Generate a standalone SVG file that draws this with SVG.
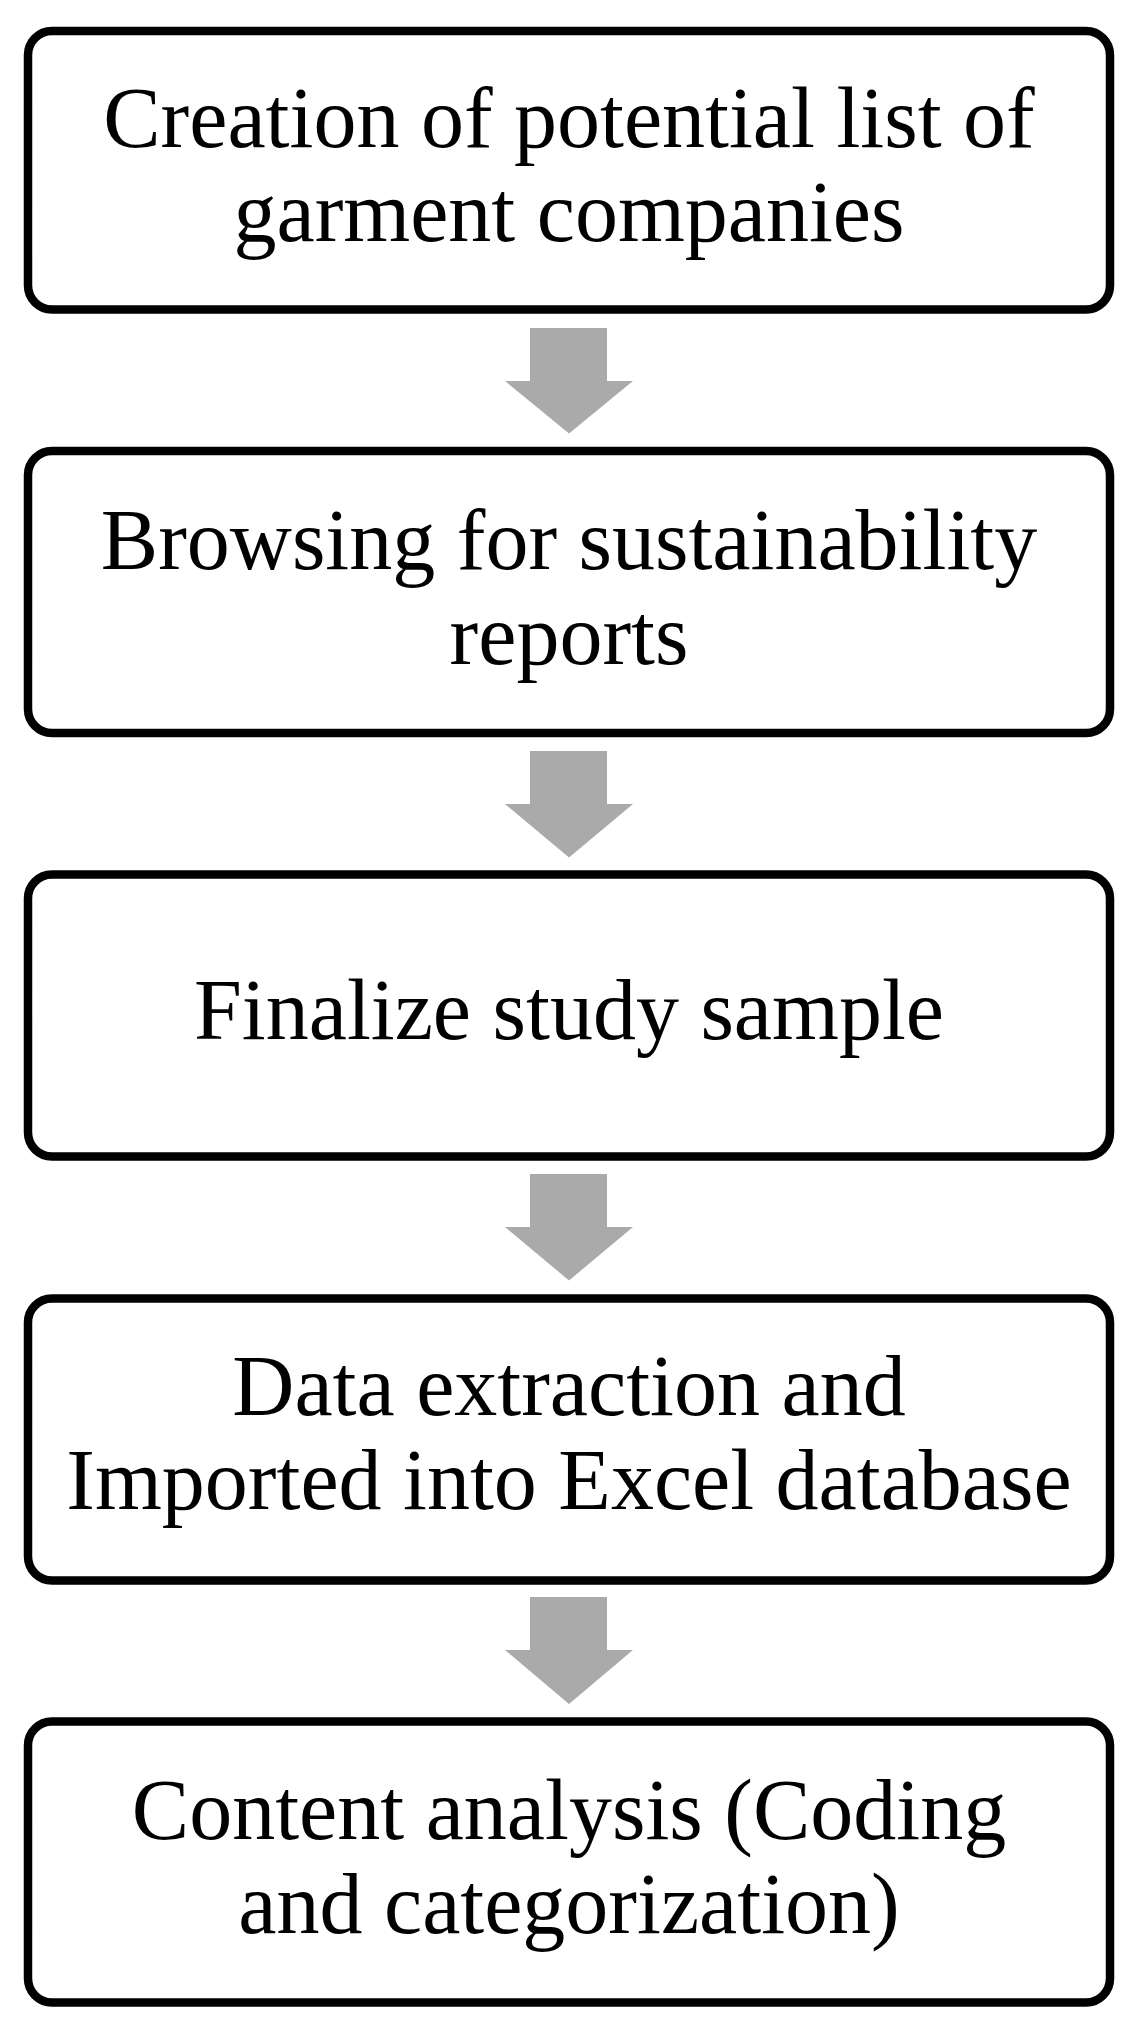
<svg xmlns="http://www.w3.org/2000/svg" width="1140" height="2028" viewBox="0 0 1140 2028">
<style>
.box{fill:#ffffff;stroke:#000000;stroke-width:8.5}
.lbl{font-family:"Liberation Serif","Times New Roman",serif;font-size:86px;fill:#000000;text-anchor:middle}
.arr{fill:#aaaaaa;stroke:none}
</style>
<rect width="1140" height="2028" fill="#ffffff"/>
<g id="connectors">
<polygon class="arr" points="530,328 607,328 607,381 633,381 569,433.5 505,381 530,381"/>
<polygon class="arr" points="530,751 607,751 607,804 633,804 569,857.5 505,804 530,804"/>
<polygon class="arr" points="530,1174 607,1174 607,1227 633,1227 569,1280.5 505,1227 530,1227"/>
<polygon class="arr" points="530,1597 607,1597 607,1650 633,1650 569,1704 505,1650 530,1650"/>
</g>
<g id="node1">
<rect class="box" x="28" y="31" width="1082" height="278.5" rx="24"/>
<text class="lbl" x="569" y="147">Creation of potential list of</text>
<text class="lbl" x="569" y="241">garment companies</text>
</g>
<g id="node2">
<rect class="box" x="28" y="451" width="1082" height="282" rx="24"/>
<text class="lbl" x="569" y="569">Browsing for sustainability</text>
<text class="lbl" x="569" y="664">reports</text>
</g>
<g id="node3">
<rect class="box" x="28" y="874.5" width="1082" height="282" rx="24"/>
<text class="lbl" x="569" y="1039">Finalize study sample</text>
</g>
<g id="node4">
<rect class="box" x="28" y="1298.5" width="1082" height="282" rx="24"/>
<text class="lbl" x="569" y="1415">Data extraction and</text>
<text class="lbl" x="569" y="1509">Imported into Excel database</text>
</g>
<g id="node5">
<rect class="box" x="28" y="1721.5" width="1082" height="281" rx="24"/>
<text class="lbl" x="569" y="1839">Content analysis (Coding</text>
<text class="lbl" x="569" y="1933">and categorization)</text>
</g>
</svg>
